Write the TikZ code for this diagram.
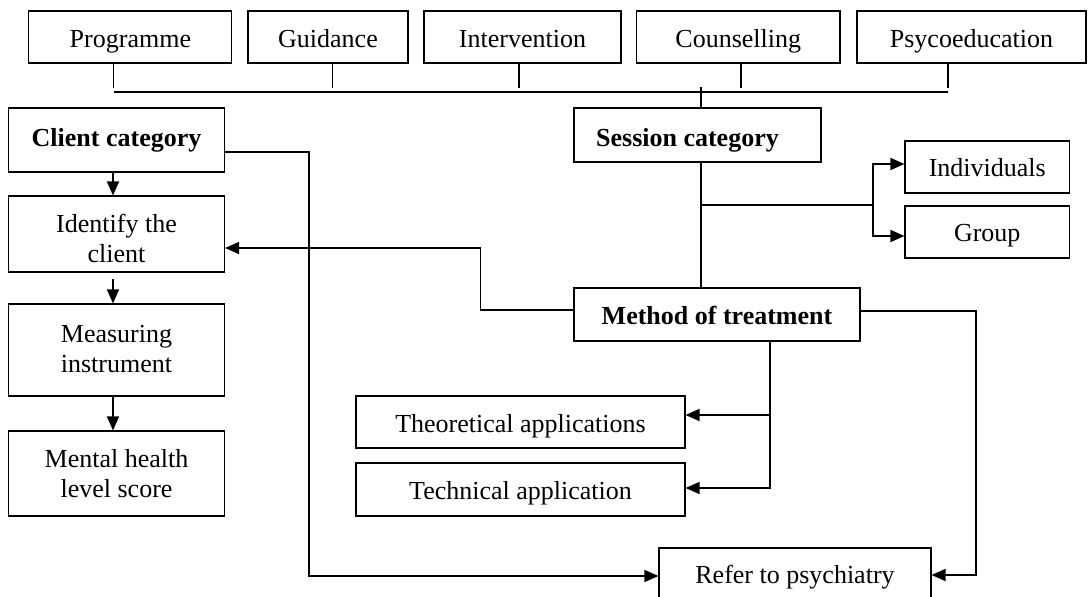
\documentclass[tikz,border=0pt]{standalone}
\usepackage{fontspec}
\setmainfont{Liberation Serif}
\usetikzlibrary{arrows.meta}
\newcommand{\twoline}[2]{\begin{tabular}[t]{@{}c@{}}#1\\#2\end{tabular}}
\begin{document}
\begin{tikzpicture}[x=1pt,y=-1pt,
  box/.style={draw=black,line width=1.1pt,rectangle,inner sep=0pt,
    font=\fontsize{26}{30}\selectfont,text height=19pt,text depth=0pt},
  bbox/.style={box,font=\fontsize{26}{30}\selectfont\bfseries},
  conn/.style={line width=1.6pt},
  arr/.style={conn,-{Triangle[length=14pt,width=12pt]}}]
\useasboundingbox (0,0) rectangle (1088,597);
% top row
\node[box,text height=20pt,minimum width=203pt,minimum height=52pt] (prog) at (130.4,37) {Programme};
\node[box,text height=20pt,minimum width=160pt,minimum height=52pt] (guid) at (328,37) {Guidance};
\node[box,text height=20pt,minimum width=197pt,minimum height=52pt] (interv) at (522.5,37) {Intervention};
\node[box,text height=20pt,minimum width=203.5pt,minimum height=52pt] (couns) at (738.25,37) {Counselling};
\node[box,text height=20pt,minimum width=229pt,minimum height=52pt] (psyco) at (971.5,37) {Psycoeducation};
% left column
\node[bbox,text height=13.5pt,minimum width=216pt,minimum height=64pt] (client) at (116.5,140) {Client category};
\node[box,text height=10pt,text depth=12.6pt,minimum width=216pt,minimum height=76pt] (identify) at (116.5,234) {\twoline{Identify the}{client}};
\node[box,text height=0pt,text depth=16pt,minimum width=216pt,minimum height=92pt] (measuring) at (116.5,350) {\twoline{Measuring}{instrument}};
\node[box,text height=0pt,text depth=13pt,minimum width=216pt,minimum height=85pt] (mental) at (116.5,473.5) {\twoline{Mental health}{level score}};
% right part
\node[bbox,text height=23pt,minimum width=247pt,minimum height=54pt] (session) at (697.5,135) {\hspace*{-20pt}Session category};
\node[box,text height=18pt,minimum width=164.5pt,minimum height=52pt] (indiv) at (987.25,167) {Individuals};
\node[box,minimum width=164.5pt,minimum height=52pt] (group) at (987.25,232) {Group};
\node[bbox,minimum width=286pt,minimum height=53pt] (method) at (717,314.5) {Method of treatment};
\node[box,text height=20.5pt,minimum width=329pt,minimum height=52pt] (theo) at (520.5,422) {Theoretical applications};
\node[box,minimum width=329pt,minimum height=53pt] (tech) at (520.5,489.5) {Technical application};
\node[box,text height=17pt,minimum width=272pt,minimum height=54pt] (refer) at (795,575) {Refer to psychiatry};
% junction coordinates
\coordinate (pS) at (113.6,88);
\coordinate (gS) at (332.5,88);
\coordinate (iS) at (519,88);
\coordinate (cS) at (741,88);
\coordinate (yS) at (948,88);
\coordinate (busL) at (113.6,92);
\coordinate (busR) at (948,92);
\coordinate (sesTop) at (701,87);
\coordinate (sB) at (701,205);
\coordinate (bxm) at (873,205);
\coordinate (bx1) at (873,164);
\coordinate (bx2) at (873,236);
\coordinate (cl1) at (308.7,152);
\coordinate (cl2) at (308.7,576);
\coordinate (mL1) at (480.5,310);
\coordinate (mL2) at (480.5,248);
\coordinate (mR1) at (976,310.7);
\coordinate (mR2) at (976,575);
\coordinate (mBx) at (770,415);
\coordinate (mBy) at (770,488);
% top bus
\draw[conn] (prog.south -| pS) -- (pS);
\draw[conn] (guid.south -| gS) -- (gS);
\draw[conn] (interv.south -| iS) -- (iS);
\draw[conn] (couns.south -| cS) -- (cS);
\draw[conn] (psyco.south -| yS) -- (yS);
\draw[conn] (busL) -- (busR);
\draw[conn] (sesTop) -- (session.north -| sesTop);
% session
\draw[conn] (session.south -| sesTop) -- (method.north -| sesTop);
\draw[conn] (sB) -- (bxm);
\draw[arr] (bxm) |- (indiv.west |- bx1);
\draw[arr] (bxm) |- (group.west |- bx2);
% left column arrows
\draw[arr] ([xshift=-3.5pt]client.south) -- ([xshift=-3.5pt]identify.north);
\draw[arr] ([xshift=-3.5pt,yshift=-6pt]identify.south) -- ([xshift=-3.5pt]measuring.north);
\draw[arr] ([xshift=-3.5pt]measuring.south) -- ([xshift=-3.5pt]mental.north);
% client to refer
\draw[arr] (client.east |- cl1) -- (cl1) -- (cl2) -- (refer.west |- cl2);
% method connections
\draw[arr] (method.west |- mL1) -- (mL1) -- (mL2) -- (identify.east |- mL2);
\draw[arr] (method.east |- mR1) -- (mR1) -- (mR2) -- (refer.east |- mR2);
\draw[arr] (method.south -| mBx) |- (theo.east |- mBx);
\draw[arr] (method.south -| mBx) |- (tech.east |- mBy);
\end{tikzpicture}
\end{document}
